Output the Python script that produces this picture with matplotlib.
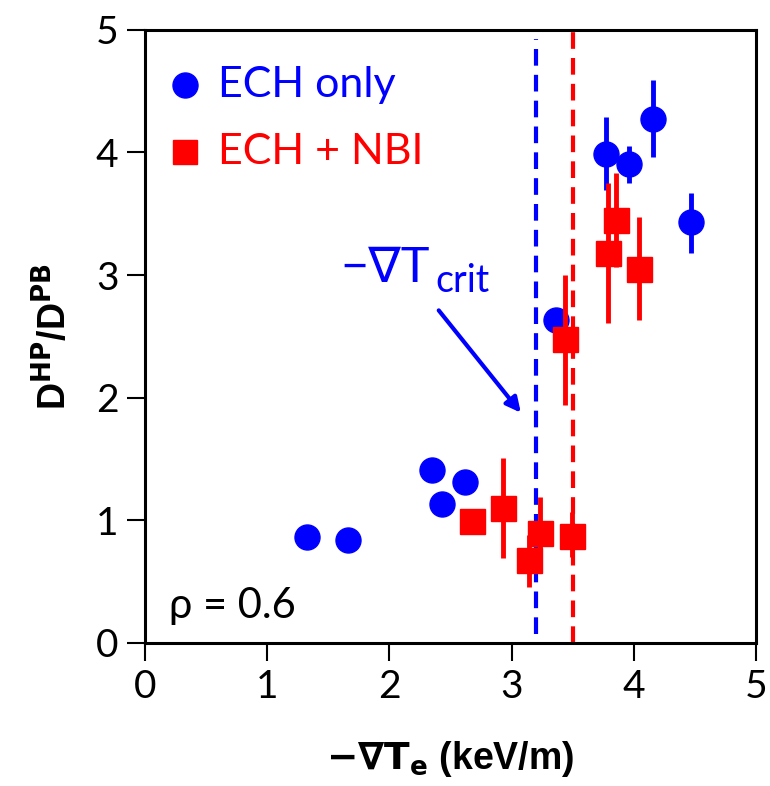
import matplotlib.pyplot as plt
import numpy as np

# ECH only (blue circles)
ech_x = [1.33, 1.66, 2.35, 2.43, 2.62, 3.36, 3.77, 3.96, 4.16, 4.47]
ech_y = [0.865, 0.84, 1.41, 1.13, 1.31, 2.63, 3.99, 3.91, 4.27, 3.43]
ech_lo = [0, 0, 0, 0, 0, 0, 0.30, 0.16, 0.31, 0.25]
ech_hi = [0, 0, 0, 0, 0, 0, 0.30, 0.14, 0.32, 0.24]

# ECH + NBI (red squares)
nbi_x = [2.68, 2.93, 3.23, 3.14, 3.49, 3.44, 3.79, 3.85, 4.04]
nbi_y = [0.995, 1.10, 0.90, 0.68, 0.87, 2.48, 3.18, 3.45, 3.05]
nbi_lo = [0, 0.41, 0.28, 0.22, 0.17, 0.54, 0.57, 0.38, 0.42]
nbi_hi = [0, 0.41, 0.29, 0.20, 0.20, 0.52, 0.57, 0.38, 0.42]

crit_ech = 3.2
crit_nbi = 3.5

thin = ['Lato', 'DejaVu Sans']

fig = plt.figure(figsize=(7.7, 7.86), dpi=100)
ax = fig.add_axes([0.188, 0.182, 0.794, 0.780])

ax.axvline(crit_ech, ymin=0.015, ymax=0.985, color='#0000ff', ls=(0, (4, 2.2)), lw=3, zorder=1)
ax.axvline(crit_nbi, color='#ff0000', ls=(0, (4, 2.2)), lw=3, zorder=1)

ax.errorbar(ech_x, ech_y, yerr=[ech_lo, ech_hi], fmt='o', color='#0000ff', ms=18,
            elinewidth=3.5, capsize=0, label='ECH only', zorder=3)
ax.errorbar(nbi_x, nbi_y, yerr=[nbi_lo, nbi_hi], fmt='s', color='#ff0000', ms=18,
            elinewidth=3.5, capsize=0, label='ECH + NBI', zorder=4)

# legend drawn by hand
ax.plot([0.33], [4.55], 'o', color='#0000ff', ms=18)
ax.text(0.6, 4.55, 'ECH only', color='#0000ff', fontsize=31, va='center', family=thin)
ax.plot([0.33], [4.0], 's', color='#ff0000', ms=17)
ax.text(0.6, 4.0, 'ECH + NBI', color='#ff0000', fontsize=31, va='center', family=thin)

ax.text(1.6, 3.06, '−∇T', color='#0000ff', fontsize=35, ha='left', va='center', family=thin)
ax.text(2.38, 2.95, 'crit', color='#0000ff', fontsize=27, ha='left', va='center', family=thin)
ax.annotate('', xy=(3.09, 1.86), xytext=(2.39, 2.73),
            arrowprops=dict(arrowstyle='-|>', color='#0000ff', lw=3, mutation_scale=22))

ax.text(0.2, 0.3, 'ρ = 0.6', fontsize=30, va='center', family=thin)

ax.set_xlim(0, 5)
ax.set_ylim(0, 5)
ax.set_xticks(np.arange(0, 6))
ax.set_yticks(np.arange(0, 6))
ax.tick_params(direction='out', length=13, width=1.5, labelsize=28, pad=6)
for lab in ax.get_xticklabels() + ax.get_yticklabels():
    lab.set_family(thin)
for s in ax.spines.values():
    s.set_linewidth(2.2)

ax.set_xlabel(r'$\mathbf{-\nabla T_e}$ (keV/m)', fontsize=27, fontweight='bold',
              family='Liberation Sans', labelpad=24)
ax.set_ylabel(r'D$^{\mathbf{HP}}$/D$^{\mathbf{PB}}$', fontsize=27, fontweight='bold',
              family='Liberation Sans', labelpad=16)

fig.savefig('out.png', dpi=100)
